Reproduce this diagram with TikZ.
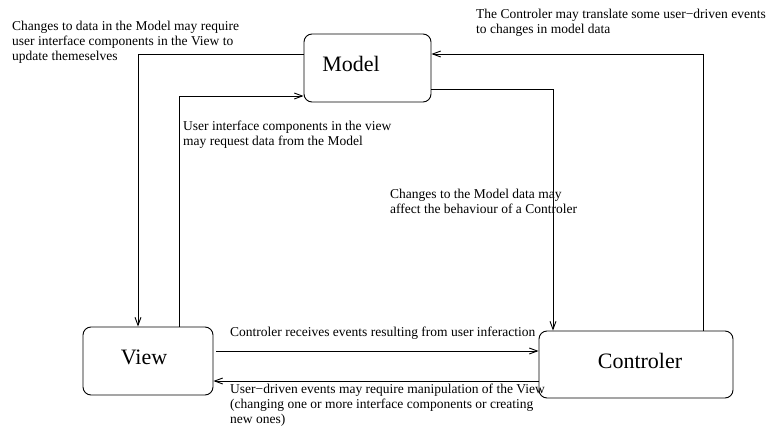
\documentclass[tikz,border=0pt]{standalone}
\usepackage{fontspec}
\setmainfont{Liberation Serif}
\usetikzlibrary{arrows.meta}
\begin{document}
\begin{tikzpicture}[x=1pt,y=-1pt,
  box/.style={draw, line width=0.9pt, rounded corners=8pt, inner sep=0pt},
  boxtext/.style={anchor=base, inner sep=0pt, font=\fontsize{22}{24}\selectfont},
  note/.style={anchor=base west, inner sep=0pt, align=left, font=\fontsize{13.5}{15}\selectfont},
  link/.style={line width=0.9pt, -{Straight Barb[length=8pt,width=6pt]}}]
\useasboundingbox (0,0) rectangle (766,430);

% the three components
\node[box, minimum width=127pt, minimum height=68pt] (model) at (367.5,68) {};
\node[box, minimum width=130pt, minimum height=68pt] (view) at (148,361) {};
\node[box, minimum width=194pt, minimum height=67pt] (ctrl) at (636,364.5) {};
\node[boxtext] (modeltxt) at (351,72) {Model};
\node[boxtext] (viewtxt) at (144,364) {View};
\node[boxtext] (ctrltxt) at (640,369) {Controler};

% bend points of the routed connectors
\coordinate (mv) at (138,54);
\coordinate (vm) at (179,96);
\coordinate (mc) at (553,89);
\coordinate (cm) at (703,54);
\coordinate (vc) at (0,351);
\coordinate (cv) at (0,381);

% connectors
\draw[link] (model.west |- mv) -| (view.north -| mv);
\draw[link] (view.north -| vm) |- (model.west |- vm);
\draw[link] (model.east |- mc) -| (ctrl.north -| mc);
\draw[link] (ctrl.north -| cm) |- (model.east |- cm);
\draw[link] ([xshift=3pt]view.east |- vc) -- (ctrl.west |- vc);
\draw[link] (ctrl.west |- cv) -- (view.east |- cv);

% annotations (anchored at the baseline of their last line)
\node[note] (n1) at (12,61) {Changes to data in the Model may require\\user interface components in the View to\\update themeselves};
\node[note] (n2) at (476,34) {The Controler may translate some user−driven events\\to changes in model data};
\node[note] (n3) at (183,146) {User interface components in the view\\may request data from the Model};
\node[note] (n4) at (390,214) {Changes to the Model data may\\affect the behaviour of a Controler};
\node[note] (n5) at (230,337) {Controler receives events resulting from user inferaction};
\node[note] (n6) at (230,423) {User−driven events may require manipulation of the View\\(changing one or more interface components or creating\\new ones)};
\end{tikzpicture}
\end{document}
